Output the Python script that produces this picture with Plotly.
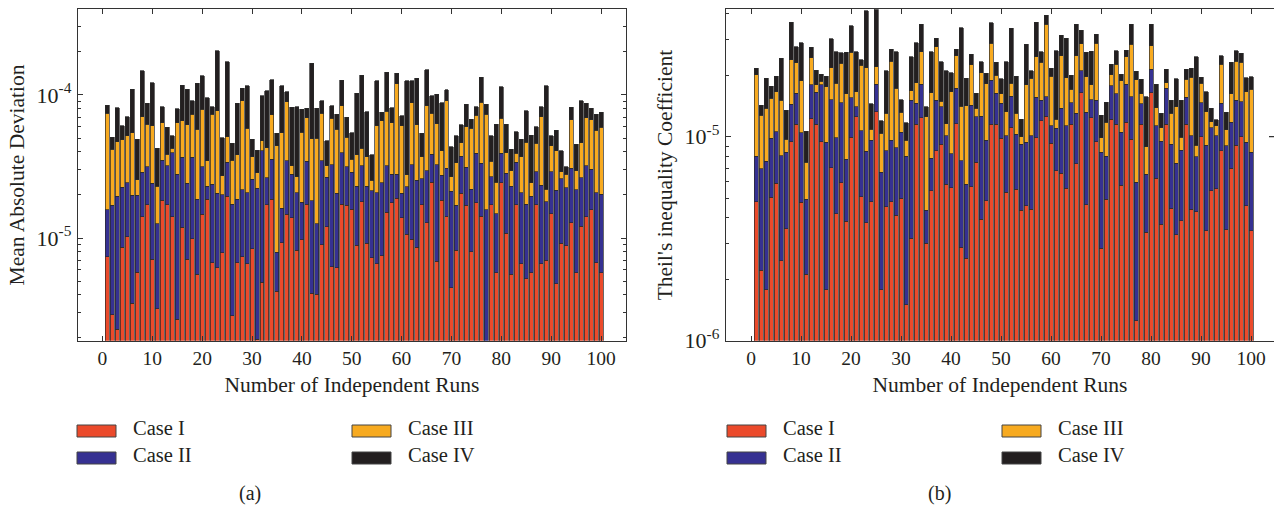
import plotly.graph_objects as go

runs = list(range(1, 101))
case_names = ["Case I", "Case II", "Case III", "Case IV"]
case_colors = ["#EB4A2B", "#363192", "#F7AA20", "#231F20"]

# Panel (a): Mean Absolute Deviation, values in units of 1e-6
mad_case1 = [7.4, 2.9, 2.3, 8.6, 10.2, 3.5, 5.75, 14.1, 17.1, 7.1,
             3.2, 18.4, 17.1, 14.1, 2.7, 11.9, 7.1, 9.9, 5.6, 14.7,
             18.6, 6.7, 6.2, 7.9, 19.6, 2.85, 6.7, 7.4, 6.6, 8.4,
             1.96, 4.9, 17.1, 18.6, 4.25, 9.3, 14.7, 13.9, 8.2, 9.7,
             17.2, 4.1, 4.05, 9.0, 12.0, 6.3, 6.2, 17.2, 17.0, 15.9,
             8.9, 17.9, 9.2, 7.3, 6.6, 7.5, 15.1, 17.6, 18.9, 13.9,
             10.6, 9.8, 8.6, 17.1, 12.8, 24.5, 6.9, 18.4, 14.2, 4.5,
             8.2, 20.5, 17.0, 8.0, 17.6, 14.2, 1.5, 17.1, 5.7, 24.4,
             10.8, 5.6, 17.1, 6.6, 5.2, 5.7, 17.1, 6.6, 7.0, 14.8,
             4.8, 9.2, 8.8, 12.8, 5.7, 12.1, 14.1, 15.7, 6.7, 5.7]
mad_case2 = [8.3, 14.1, 17.3, 14.0, 14.2, 16.4, 14.2, 14.7, 14.4, 17.0,
             9.4, 16.7, 14.8, 25.4, 25.3, 24.7, 17.0, 26.7, 13.1, 16.8,
             4.4, 17.0, 14.3, 12.2, 14.3, 14.35, 11.9, 14.4, 14.1, 17.3,
             20.3, 35.9, 9.3, 16.8, 3.7, 6.8, 20.0, 14.1, 12.5, 8.1,
             17.1, 14.1, 8.55, 25.7, 14.5, 26.1, 14.3, 22.3, 14.5, 12.9,
             14.1, 14.2, 13.8, 14.1, 14.1, 16.9, 17.0, 10.2, 9.1, 6.6,
             12.2, 22.6, 16.8, 8.8, 16.8, 14.0, 25.5, 9.1, 16.5, 16.7,
             8.8, 16.9, 14.2, 13.9, 21.5, 19.1, 14.3, 9.7, 9.1, 14.7,
             17.5, 17.4, 16.8, 14.1, 12.0, 13.9, 12.0, 16.8, 10.9, 14.3,
             16.8, 16.7, 13.6, 17.9, 16.1, 14.3, 18.0, 14.5, 14.0, 14.5]
mad_case3 = [58.7, 24.7, 27.6, 25.9, 27.3, 34.7, 5.5, 41.8, 30.9, 36.6,
             10.4, 29.0, 6.6, 2.8, 36.1, 29.5, 37.6, 36.7, 38.8, 47.9,
             11.7, 49.9, 57.2, 7.2, 17.2, 17.9, 19.5, 69.5, 37.7, 11.3,
             6.3, 7.2, 16.4, 37.3, 36.3, 38.5, 55.1, 3.9, 6.1, 37.1,
             35.2, 31.1, 37.2, 39.7, 5.4, 36.3, 37.3, 44.3, 19.1, 6.6,
             15.1, 10.2, 14.0, 4.0, 40.0, 41.7, 44.7, 36.3, 91.5, 40.5,
             4.9, 55.9, 36.3, 11.1, 54.2, 35.9, 30.3, 13.1, 60.6, 5.6,
             16.6, 9.0, 28.8, 36.5, 32.8, 55.5, 57.8, 7.7, 9.7, 29.6,
             11.2, 6.6, 5.2, 16.3, 29.5, 4.8, 16.8, 47.2, 4.1, 15.1,
             19.0, 3.2, 5.6, 36.2, 7.8, 20.0, 37.4, 36.7, 36.2, 39.2]
mad_case4 = [10.7, 8.9, 34.3, 12.5, 18.9, 55.0, 23.6, 76.7, 25.0, 61.3,
             19.3, 18.8, 20.9, 9.4, 15.7, 50.9, 47.9, 17.5, 63.2, 56.5,
             61.1, 9.3, 126.0, 23.0, 119.9, 10.8, 49.3, 20.1, 57.3, 12.0,
             12.6, 50.4, 64.4, 54.7, 9.8, 61.1, 15.7, 50.1, 56.1, 24.4,
             11.1, 116.7, 30.8, 16.9, 16.1, 15.1, 15.8, 42.9, 19.2, 19.2,
             64.6, 95.3, 39.4, 12.7, 64.6, 9.5, 67.0, 17.4, 22.3, 10.7,
             98.3, 37.7, 69.1, 17.0, 65.8, 24.5, 38.4, 47.7, 17.1, 16.7,
             18.1, 15.3, 26.0, 9.5, 11.0, 44.2, 12.4, 17.2, 37.9, 45.7,
             22.9, 12.1, 16.4, 12.0, 31.0, 28.1, 14.1, 12.3, 93.7, 7.5,
             16.3, 11.5, 3.5, 15.1, 15.6, 44.4, 17.9, 13.7, 16.7, 16.2]

# Panel (b): Theil's inequality coefficient, values in units of 1e-6
tic_case1 = [4.81, 2.22, 1.78, 5.04, 5.91, 2.46, 3.53, 9.45, 11.5, 4.77,
             2.12, 12.3, 11.5, 9.45, 1.78, 7.05, 4.18, 5.95, 3.86, 9.93,
             12.5, 5.08, 3.79, 4.79, 13.25, 1.78, 4.54, 4.81, 4.13, 4.99,
             1.50, 3.18, 11.5, 12.4, 3.0, 5.44, 8.53, 9.2, 5.84, 5.63,
             11.6, 2.87, 2.53, 5.69, 7.49, 3.94, 4.86, 11.5, 11.5, 9.81,
             5.34, 11.1, 5.52, 4.37, 4.59, 4.40, 9.88, 12.0, 12.6, 9.27,
             6.82, 6.61, 5.59, 11.5, 7.35, 16.4, 4.65, 12.4, 9.45, 2.84,
             4.94, 12.2, 11.5, 5.78, 11.75, 9.7, 1.25, 11.5, 3.40, 16.4,
             6.25, 3.72, 11.5, 4.45, 3.30, 3.87, 11.5, 4.42, 4.29, 10.0,
             3.45, 5.44, 5.55, 8.53, 3.49, 7.0, 9.09, 10.0, 4.59, 3.46]
tic_case2 = [3.23, 4.73, 5.82, 4.77, 4.69, 5.61, 4.85, 4.95, 4.8, 5.68,
             2.83, 5.65, 5.0, 8.5, 7.62, 8.15, 5.7, 8.75, 3.91, 5.57,
             1.5, 5.62, 4.71, 4.84, 4.85, 4.91, 3.99, 4.82, 4.7, 5.51,
             6.54, 11.92, 3.1, 5.7, 1.37, 2.39, 6.57, 4.8, 4.26, 2.6,
             5.65, 4.76, 3.31, 8.61, 5.01, 8.66, 4.77, 7.4, 4.8, 4.79,
             4.76, 4.7, 4.78, 4.79, 4.81, 5.7, 5.72, 3.1, 3.1, 2.03,
             4.18, 7.14, 5.71, 3.2, 5.65, 4.65, 8.5, 2.8, 5.65, 5.54,
             3.1, 5.6, 4.7, 4.72, 6.35, 6.0, 4.72, 3.0, 3.14, 5.05,
             5.05, 5.8, 5.75, 4.71, 4.1, 4.73, 4.1, 5.68, 3.69, 4.7,
             5.64, 5.61, 4.55, 6.07, 5.53, 4.75, 6.0, 4.85, 4.81, 4.92]
tic_case3 = [12.06, 5.8, 6.15, 5.59, 6.0, 7.03, 1.32, 9.4, 6.8, 8.35,
             2.54, 6.45, 1.45, 0.75, 8.2, 6.6, 8.42, 8.2, 8.43, 10.4,
             2.6, 11.7, 13.3, 1.22, 3.9, 3.71, 4.47, 13.77, 8.42, 2.65,
             1.59, 1.7, 3.8, 8.0, 8.13, 8.57, 12.5, 0.95, 1.5, 8.37,
             7.65, 6.47, 8.36, 8.2, 1.25, 8.0, 8.57, 9.8, 3.7, 1.6,
             3.15, 2.5, 2.7, 0.84, 8.55, 9.25, 9.1, 8.1, 19.8, 8.5,
             1.2, 11.25, 8.2, 2.4, 12.0, 7.45, 6.55, 2.75, 13.6, 1.5,
             3.71, 2.3, 6.4, 8.3, 6.6, 12.7, 13.1, 1.7, 2.39, 6.45,
             2.6, 1.53, 1.15, 3.84, 6.6, 1.33, 3.5, 9.45, 1.08, 3.6,
             4.16, 0.8, 1.2, 8.1, 1.78, 4.45, 8.3, 8.35, 7.2, 8.72]
tic_case4 = [1.5, 1.55, 5.6, 2.3, 3.2, 9.1, 3.8, 12.5, 4.5, 10.1,
             3.16, 3.0, 3.25, 1.55, 2.2, 8.4, 7.8, 2.9, 9.7, 9.0,
             9.5, 1.4, 19.7, 3.65, 26.0, 1.6, 8.05, 3.4, 8.85, 2.05,
             2.07, 7.9, 10.5, 9.4, 1.5, 9.7, 2.8, 8.35, 9.4, 4.0,
             1.9, 20.1, 5.15, 2.8, 2.55, 2.7, 2.3, 7.5, 3.2, 3.0,
             10.05, 15.7, 6.8, 2.2, 10.45, 1.7, 11.6, 2.9, 3.95, 1.8,
             14.2, 6.5, 10.9, 2.95, 10.6, 4.8, 6.2, 8.35, 3.0, 2.87,
             3.0, 2.5, 3.8, 1.45, 1.9, 7.2, 1.9, 2.9, 6.77, 7.7,
             4.2, 1.95, 3.0, 2.1, 5.2, 5.17, 2.3, 2.05, 15.6, 1.25,
             3.35, 1.9, 0.8, 2.2, 2.35, 7.0, 3.0, 2.4, 2.9, 2.6]

x_ticks = list(range(0, 101, 10))
UNIT = 1e-6

FONT = "Liberation Serif"
INK = "#231F20"
W, H = 1274, 507

fig = go.Figure()
panels = [
    ("x", "y", [mad_case1, mad_case2, mad_case3, mad_case4]),
    ("x2", "y2", [tic_case1, tic_case2, tic_case3, tic_case4]),
]
for xa, ya, series in panels:
    for name, color, vals in zip(case_names, case_colors, series):
        fig.add_trace(go.Bar(
            x=runs, y=[v * UNIT for v in vals], name=name,
            xaxis=xa, yaxis=ya, showlegend=False,
            marker=dict(color=color, line=dict(color="#2a2a2a", width=0.7)),
        ))

def px_x(p):
    return p / W

def px_y(p):
    return 1 - p / H

ydom = [px_y(340.7), px_y(9.3)]
common_x = dict(
    tickmode="array", tickvals=x_ticks, ticks="inside", ticklen=5,
    tickwidth=1.2, tickcolor="#333", showline=True, linecolor="#333",
    linewidth=1.3, mirror="ticks", showgrid=False, zeroline=False,
    automargin=False, ticklabelstandoff=0,
    tickfont=dict(family=FONT, size=19.5, color=INK),
    title=dict(text="Number of Independent Runs", standoff=8,
               font=dict(family=FONT, size=21.5, color=INK)),
)
common_y = dict(
    type="log", ticks="inside", ticklen=5, tickwidth=1.2, tickcolor="#333",
    showline=True, linecolor="#333", linewidth=1.3, showgrid=False,
    zeroline=False, tickfont=dict(family=FONT, size=22, color=INK),
    ticklabelstandoff=1, automargin=False,
)

minor_a = [m * 1e-6 for m in range(2, 10)] + [m * 1e-5 for m in range(2, 10)] + [2e-4, 3e-4]
minor_b = [m * 1e-6 for m in range(2, 10)] + [m * 1e-5 for m in range(2, 5)]

fig.update_layout(
    width=W, height=H, margin=dict(l=0, r=0, t=0, b=0, autoexpand=False),
    paper_bgcolor="white", plot_bgcolor="white",
    barmode="stack", bargap=0.2,
    font=dict(family=FONT, color=INK),
    xaxis=dict(domain=[px_x(78), px_x(626)], range=[-4.9, 105.0], anchor="y",
               **common_x),
    xaxis2=dict(domain=[px_x(726), 1.0], range=[-5.0, 104.6], anchor="y2",
                **common_x),
    yaxis=dict(domain=ydom, range=[-5.718, -3.401], anchor="x",
               tickmode="array", tickvals=[1e-5, 1e-4],
               ticktext=["10<sup>-5</sup>", "10<sup>-4</sup>"],
               mirror="ticks",
               minor=dict(tickmode="array", tickvals=minor_a, ticks="inside",
                          ticklen=3, tickcolor="#333", tickwidth=1),
               title=dict(text="Mean Absolute Deviation", standoff=6,
                          font=dict(family=FONT, size=21.5, color=INK)),
               **common_y),
    yaxis2=dict(domain=ydom, range=[-6.0, -4.3755], anchor="x2",
                tickmode="array", tickvals=[1e-6, 1e-5],
                ticktext=["10<sup>-6</sup>", "10<sup>-5</sup>"],
                mirror=False,
                minor=dict(tickmode="array", tickvals=minor_b, ticks="inside",
                           ticklen=3, tickcolor="#333", tickwidth=1),
                title=dict(text="Theil's inequality Coefficient", standoff=6,
                           font=dict(family=FONT, size=21.5, color=INK)),
                **common_y),
)

# manual legends (2 x 2 grid under each panel)
shapes = []
annotations = []
legend_slots = [(0, 0), (0, 1), (1, 0), (1, 1)]  # (column, row) for Case I..IV
for offset in (0, 650):
    for (col, row), name, color in zip(legend_slots, case_names, case_colors):
        sx0 = 77 + offset + col * 275
        sy = 431 + row * 27
        shapes.append(dict(type="rect", xref="paper", yref="paper",
                           x0=px_x(sx0), x1=px_x(sx0 + 39),
                           y0=px_y(sy + 6), y1=px_y(sy - 6),
                           fillcolor=color, line=dict(color="#444", width=1)))
        annotations.append(dict(text=name, xref="paper", yref="paper",
                                x=px_x(sx0 + 54), y=px_y(sy - 3), xanchor="left",
                                yanchor="middle", showarrow=False,
                                font=dict(family=FONT, size=20.5, color=INK)))

for label, cx in (("(a)", 250), ("(b)", 940)):
    annotations.append(dict(text=label, xref="paper", yref="paper",
                            x=px_x(cx), y=px_y(493), xanchor="center",
                            yanchor="middle", showarrow=False,
                            font=dict(family=FONT, size=20, color=INK)))

# tick of the cropped right-hand spine of panel (b)
shapes.append(dict(type="line", xref="paper", yref="y2", x0=px_x(1269), x1=1.0,
                   y0=1e-5, y1=1e-5, line=dict(color="#333", width=1.2)))

fig.update_layout(shapes=shapes, annotations=annotations)
fig.write_html("out.html")
